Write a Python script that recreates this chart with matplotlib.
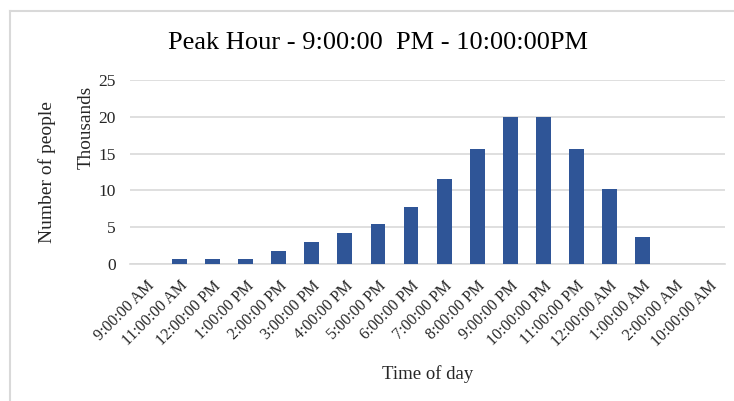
import matplotlib
matplotlib.use('Agg')
import matplotlib.pyplot as plt
from matplotlib.lines import Line2D

# Visitors per hour, in thousands
hours = ['9:00:00 AM', '11:00:00 AM', '12:00:00 PM', '1:00:00 PM', '2:00:00 PM',
         '3:00:00 PM', '4:00:00 PM', '5:00:00 PM', '6:00:00 PM', '7:00:00 PM',
         '8:00:00 PM', '9:00:00 PM', '10:00:00 PM', '11:00:00 PM', '12:00:00 AM',
         '1:00:00 AM', '2:00:00 AM', '10:00:00 AM']
people = [0, 0.65, 0.65, 0.65, 1.75, 3.0, 4.25, 5.45, 7.8, 11.5,
          15.6, 20.0, 20.0, 15.6, 10.2, 3.65, 0, 0]

plt.rcParams['font.family'] = ['Liberation Serif', 'DejaVu Serif']
grey = '#d9d9d9'
text_col = '#262626'

fig = plt.figure(figsize=(7.34, 4.01), dpi=100)
ax = fig.add_axes([0.177, 0.3417, 0.811, 0.4588])

x = range(len(hours))
ax.bar(x, people, width=0.45, color='#2f5597', zorder=3)

ax.set_xlim(-0.5, len(hours) - 0.5)
ax.set_ylim(0, 25)
ax.set_yticks([0, 5, 10, 15, 20, 25])
ax.set_xticks(list(x))
ax.set_xticklabels(hours, rotation=45, ha='right', rotation_mode='anchor',
                   fontsize=11.5, color=text_col)
ax.tick_params(axis='y', length=0, labelsize=12.5, labelcolor=text_col, pad=10)
ax.tick_params(axis='x', length=0, pad=10)
ax.grid(axis='y', color=grey, linewidth=1.2, zorder=0)
for side in ['top', 'right', 'left']:
    ax.spines[side].set_visible(False)
ax.spines['bottom'].set_color(grey)
ax.spines['bottom'].set_linewidth(1.2)

fig.text(0.515, 0.893, 'Peak Hour - 9:00:00  PM - 10:00:00PM', ha='center',
         va='center', fontsize=19, color='black')
fig.text(0.583, 0.067, 'Time of day', ha='center', va='center',
         fontsize=13.5, color=text_col)
fig.text(0.064, 0.571, 'Number of people', rotation=90, ha='center',
         va='center', fontsize=14, color=text_col)
fig.text(0.117, 0.683, 'Thousands', rotation=90, ha='center',
         va='center', fontsize=13.8, color=text_col)

# chart frame, left and top edges
fig.add_artist(Line2D([0.0135, 0.0135], [0, 0.9738], color=grey, linewidth=1.5))
fig.add_artist(Line2D([0.0135, 1.0], [0.9738, 0.9738], color=grey, linewidth=1.5))

fig.savefig('out.png', dpi=100)
